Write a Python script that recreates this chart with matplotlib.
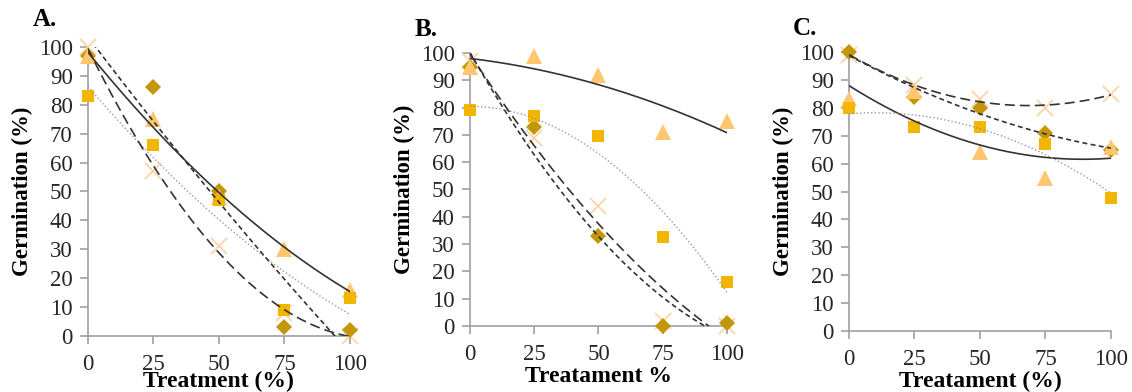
import numpy as np
import matplotlib.pyplot as plt

plt.rcParams['font.family'] = ['Liberation Serif', 'DejaVu Serif']

treatment = [0, 25, 50, 75, 100]

# panel A
a_diamond = [97, 86, 50, 3, 2]
a_square = [83, 66, 47, 9, 13]
a_triangle = [97, 75, 48, 30, 16]
a_cross = [100, 57, 31, 8, 0]

# panel B
b_diamond = [95, 73, 33, 0, 1]
b_square = [79, 77, 69.5, 32.5, 16]
b_triangle = [95, 99, 92, 71, 75]
b_cross = [97, 69, 44, 2, 0]

# panel C
c_diamond = [100, 84, 80, 71, 65]
c_square = [80, 73, 73, 67, 47.5]
c_triangle = [83, 86, 64, 55, 66]
c_cross = [99, 88, 83, 80, 85]

panels = [
    ('A.', 'Treatment (%)', a_diamond, a_square, a_triangle, a_cross),
    ('B.', 'Treatament %', b_diamond, b_square, b_triangle, b_cross),
    ('C.', 'Treatament (%)', c_diamond, c_square, c_triangle, c_cross),
]

# axes rectangles in figure fractions
rects = [
    [0.0777, 0.1429, 0.2314, 0.7372],
    [0.4152, 0.1684, 0.2270, 0.6964],
    [0.7500, 0.1556, 0.2314, 0.7117],
]
title_pos = [(0.029, 0.92), (0.366, 0.895), (0.700, 0.898)]
xlabel_y = [0.0, 0.012, 0.0]

c_diam = '#C4960A'
c_sq = '#F2B600'
c_tri = '#FFC66E'
c_x = '#FFD0A4'
axcol = '#A0A0A0'

fig = plt.figure(figsize=(11.32, 3.92), dpi=100)

for i, (title, xlab, dia, sq, tri, cr) in enumerate(panels):
    ax = fig.add_axes(rects[i])
    x = np.array(treatment)
    ax.plot(x, cr, 'x', color=c_x, ms=11, mew=1.2, clip_on=False, zorder=3)
    ax.plot(x, dia, 'D', color=c_diam, ms=8, mew=0, clip_on=False, zorder=4)
    ax.plot(x, tri, '^', color=c_tri, ms=11, mew=0, clip_on=False, zorder=5)
    ax.plot(x, sq, 's', color=c_sq, ms=9, mew=0, clip_on=False, zorder=6)

    # 2nd order polynomial trendlines
    xs = np.linspace(0, 100, 200)
    for ys, ls, col, lw in [(tri, '-', '#333333', 1.2),
                            (sq, ':', '#999999', 1.0),
                            (dia, (0, (3, 2)), '#333333', 1.2),
                            (cr, (0, (6, 3)), '#333333', 1.2)]:
        p = np.polyfit(x, ys, 2)
        ax.plot(xs, np.polyval(p, xs), linestyle=ls, color=col, lw=lw, zorder=7)

    ax.set_xlim(0, 100)
    ax.set_ylim(0, 100)
    ax.set_xticks(treatment)
    ax.set_yticks(range(0, 101, 10))
    for s in ['top', 'right']:
        ax.spines[s].set_visible(False)
    for s in ['left', 'bottom']:
        ax.spines[s].set_color(axcol)
        ax.spines[s].set_linewidth(1.2)
    ax.tick_params(colors=axcol, labelcolor='#262626', labelsize=16.5,
                   length=6, width=1.2, direction='out')
    ax.tick_params(axis='x', pad=7)
    ax.tick_params(axis='y', pad=5)
    ax.set_ylabel('Germination (%)', fontsize=16.5, fontweight='bold', labelpad=4)
    fig.text(rects[i][0] + rects[i][2] / 2, xlabel_y[i], xlab, ha='center',
             va='bottom', fontsize=17, fontweight='bold')
    fig.text(title_pos[i][0], title_pos[i][1], title, fontsize=18,
             fontweight='bold', va='bottom')

fig.savefig('out.png', dpi=100)
